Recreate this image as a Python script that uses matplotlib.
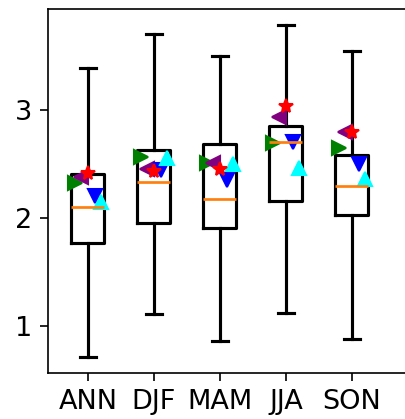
import matplotlib
matplotlib.use('Agg')
import matplotlib.pyplot as plt


# Seasons and box statistics
seasons = ['ANN', 'DJF', 'MAM', 'JJA', 'SON']
whislo = [0.71, 1.11, 0.86, 1.12, 0.88]
q1 = [1.77, 1.955, 1.91, 2.16, 2.03]
med = [2.10, 2.34, 2.175, 2.71, 2.295]
q3 = [2.41, 2.63, 2.69, 2.855, 2.585]
whishi = [3.39, 3.705, 3.50, 3.79, 3.55]

# Individual values drawn as markers over the boxes
green_vals = [2.325, 2.565, 2.515, 2.70, 2.655]
purple_vals = [2.385, 2.455, 2.515, 2.935, 2.80]
blue_vals = [2.205, 2.445, 2.355, 2.705, 2.50]
cyan_vals = [2.15, 2.56, 2.50, 2.465, 2.365]
red_vals = [2.42, 2.44, 2.455, 3.04, 2.80]


stats = []
for i, name in enumerate(seasons):
    stats.append({'label': name, 'whislo': whislo[i], 'q1': q1[i], 'med': med[i],
                  'q3': q3[i], 'whishi': whishi[i], 'fliers': []})

fig = plt.figure(figsize=(2.7, 419 / 150), dpi=150)
ax = fig.add_axes([48 / 405, 46 / 419, 360 / 405, 364 / 419])

pos = list(range(1, len(seasons) + 1))
ax.bxp(stats, positions=pos, widths=0.5,
       boxprops=dict(linewidth=1.5, color='black'),
       whiskerprops=dict(linewidth=1.5, color='black'),
       capprops=dict(linewidth=1.5, color='black'),
       medianprops=dict(linewidth=1.3, color='#ff7f0e'))

series = [(green_vals, '>', 'green', -0.2),
          (purple_vals, '<', 'purple', -0.1),
          (blue_vals, 'v', 'blue', 0.1),
          (cyan_vals, '^', 'cyan', 0.2),
          (red_vals, '*', 'red', 0.0)]
for vals, mk, col, off in series:
    ax.plot([p + off for p in pos], vals, linestyle='none', marker=mk,
            color=col, markersize=7)

ax.set_xlim(0.394, 5.85)
ax.set_ylim(0.564, 3.94)
ax.set_xticks(pos)
ax.set_xticklabels(seasons)
ax.set_yticks([1, 2, 3])
ax.tick_params(labelsize=13, length=4)

fig.savefig('out.png', dpi=150)
